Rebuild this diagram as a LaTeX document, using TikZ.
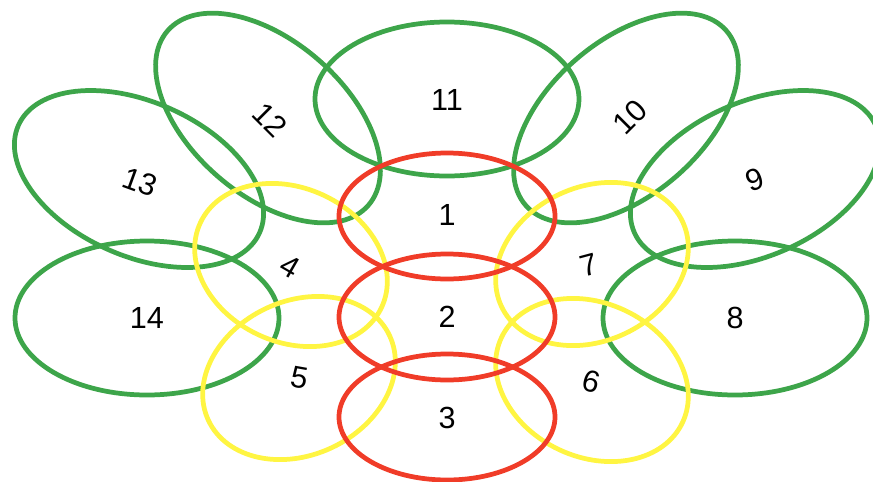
\documentclass[tikz,border=0pt]{standalone}
\usepackage{fontspec}
\setmainfont{Liberation Sans}
\usepackage{tikz}
\definecolor{vGreen}{HTML}{3DA54A}
\definecolor{vRed}{HTML}{F03C28}
\definecolor{vYellow}{HTML}{FFF542}

\begin{document}
\begin{tikzpicture}[
  x=0.02cm,y=-0.02cm,
  grn/.style={draw=vGreen,line width=2.7pt},
  rd/.style={draw=vRed,line width=2.7pt},
  ylw/.style={draw=vYellow,line width=2.7pt},
  lbl/.style={inner sep=0pt,font=\fontsize{17.4}{20}\selectfont}
]
\useasboundingbox (0,0) rectangle (873,481);
% outer ring
\draw[grn] (447,99) ellipse [x radius=132, y radius=77];
\draw[grn,rotate around={-41:(268,118)}] (268,118) ellipse [x radius=133, y radius=77];
\draw[grn,rotate around={41:(626,118)}] (626,118) ellipse [x radius=133, y radius=77];
\draw[grn,rotate around={-24:(139,179)}] (139,179) ellipse [x radius=132, y radius=77];
\draw[grn,rotate around={24:(755,179)}] (755,179) ellipse [x radius=132, y radius=77];
\draw[grn] (147,318) ellipse [x radius=132, y radius=77];
\draw[grn] (735,318) ellipse [x radius=132, y radius=77];
% middle ring
\draw[ylw,rotate around={-25:(291,265)}] (291,265) ellipse [x radius=100, y radius=77];
\draw[ylw,rotate around={25:(299,378)}] (299,378) ellipse [x radius=100, y radius=77];
\draw[ylw,rotate around={25:(592,264)}] (592,264) ellipse [x radius=100, y radius=77];
\draw[ylw,rotate around={-25:(592,380)}] (592,380) ellipse [x radius=100, y radius=77];
% core
\draw[rd] (447,216) ellipse [x radius=108, y radius=63];
\draw[rd] (447,317) ellipse [x radius=108, y radius=63];
\draw[rd] (447,417) ellipse [x radius=108, y radius=63];
% labels
\node[lbl] (l1) at (447,215) {1};
\node[lbl] (l2) at (447,317) {2};
\node[lbl] (l3) at (447,418) {3};
\node[lbl,rotate=-30] (l4) at (290,267) {4};
\node[lbl,rotate=-10] (l5) at (300,378) {5};
\node[lbl,rotate=-15] (l6) at (591,382) {6};
\node[lbl,rotate=15] (l7) at (589,265) {7};
\node[lbl] (l8) at (735,318) {8};
\node[lbl,rotate=20] (l9) at (755,180) {9};
\node[lbl,rotate=45] (l10) at (630,117) {10};
\node[lbl] (l11) at (447,100) {11};
\node[lbl,rotate=-45] (l12) at (270,120) {12};
\node[lbl,rotate=-20] (l13) at (140,182) {13};
\node[lbl] (l14) at (147,318) {14};
\end{tikzpicture}
\end{document}
